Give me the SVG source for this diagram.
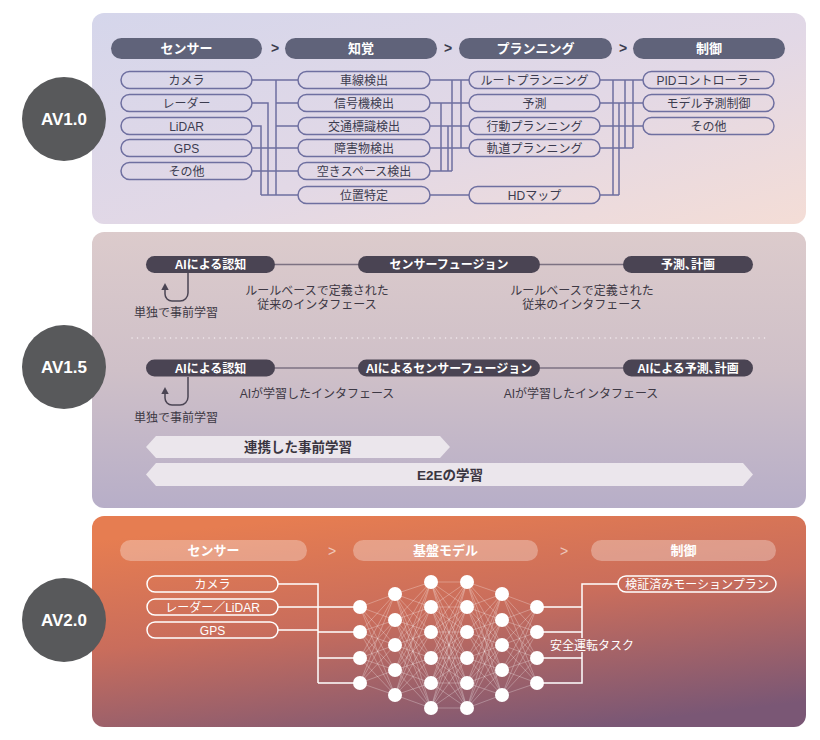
<svg xmlns="http://www.w3.org/2000/svg" width="820" height="740" viewBox="0 0 820 740">
<defs>
<linearGradient id="g1" x1="0" y1="0" x2="1" y2="1"><stop offset="0" stop-color="#d5d6eb"/><stop offset="0.55" stop-color="#e2d8e6"/><stop offset="1" stop-color="#f4ddd6"/></linearGradient>
<linearGradient id="g2" x1="0" y1="0" x2="0" y2="1"><stop offset="0" stop-color="#dccbcc"/><stop offset="0.5" stop-color="#cfc0c8"/><stop offset="1" stop-color="#b7aec8"/></linearGradient>
<linearGradient id="g3" x1="0.3" y1="0" x2="0.7" y2="1"><stop offset="0" stop-color="#e67d51"/><stop offset="0.45" stop-color="#c96d5c"/><stop offset="1" stop-color="#7a5775"/></linearGradient>
<style>
text{font-family:"Liberation Sans","Noto Sans CJK JP",sans-serif;text-anchor:middle}
.av{fill:#58595b}
.avt{fill:#fff;font-size:17px;font-weight:bold}
.hp{fill:#60637a}
.ht{fill:#fff;font-size:13px;font-weight:bold}
.chev{fill:#3a3b4c;font-size:14px;font-weight:bold}
.ip{fill:none;stroke:#6e6fa0;stroke-width:1.5}
.it{fill:#3c3c50;font-size:12px}
.c1{fill:none;stroke:#6e6fa0;stroke-width:1.5}
.dp{fill:#4a4453}
.dt{fill:#fff;font-size:12px;font-weight:bold}
.lk{stroke:#7d7282;stroke-width:1.5}
.lb{fill:#3d3844;font-size:12px}
.ar{fill:none;stroke:#4a4453;stroke-width:1.5}
.bar{fill:#ebe6ec}
.bt{fill:#3a3540;font-size:13.5px;font-weight:bold}
.wp{fill:#fff;fill-opacity:0.3}
.wt{fill:#fff;font-size:13px;font-weight:bold}
.wchev{fill:#fff;fill-opacity:0.6;font-size:14px}
.wi{fill:none;stroke:#fff;stroke-width:1.5}
.wit{fill:#fff;font-size:12px}
.wl{fill:none;stroke:#fff;stroke-width:1.5}
.nn{fill:none;stroke:#fff;stroke-opacity:0.35;stroke-width:0.8}
.nd{fill:#fff}
</style>
</defs>
<rect width="820" height="740" fill="#fff"/>

<!-- Panels -->
<rect x="92" y="13" width="714" height="211" rx="12" fill="url(#g1)"/>
<rect x="92" y="232" width="714" height="276" rx="12" fill="url(#g2)"/>
<rect x="92" y="516" width="714" height="211" rx="12" fill="url(#g3)"/>

<!-- AV circles -->
<g id="av10"><circle class="av" cx="64" cy="119" r="42"/><text class="avt" x="64" y="125">AV1.0</text></g>
<g id="av15"><circle class="av" cx="64" cy="367" r="42"/><text class="avt" x="64" y="373">AV1.5</text></g>
<g id="av20"><circle class="av" cx="64" cy="620" r="42"/><text class="avt" x="64" y="626">AV2.0</text></g>

<!-- Panel 1 connectors -->
<g id="p1-connectors">
<path class="c1" d="M252 80H298M276 80V195M252 103H268V195M252 126H261V195M252 148H298M252 171H298M276 103H298M276 126H298M261 195H298"/>
<path class="c1" d="M430 80H469M430 103H469M430 126H469M430 148H469M430 171H452M430 195H469M441 103V171M448 126V171M452 80V171M461 80V148"/>
<path class="c1" d="M600 80H643M600 103H643M600 126H643M600 148H633M600 195H619M613 80V195M619 103V195M625 80V148M633 80V148"/>
</g>

<!-- Panel 1 headers -->
<g id="p1-h-sensor"><rect class="hp" x="111" y="38" width="151" height="21" rx="10.5"/><text class="ht" x="186.5" y="53">センサー</text></g>
<text class="chev" x="275" y="53">&gt;</text>
<g id="p1-h-perc"><rect class="hp" x="285" y="38" width="152" height="21" rx="10.5"/><text class="ht" x="361" y="53">知覚</text></g>
<text class="chev" x="448" y="53">&gt;</text>
<g id="p1-h-plan"><rect class="hp" x="459" y="38" width="153" height="21" rx="10.5"/><text class="ht" x="535.5" y="53">プランニング</text></g>
<text class="chev" x="623" y="53">&gt;</text>
<g id="p1-h-ctrl"><rect class="hp" x="633" y="38" width="152" height="21" rx="10.5"/><text class="ht" x="709" y="53">制御</text></g>

<!-- Panel 1 sensors -->
<g id="s-camera"><rect class="ip" x="121" y="71.5" width="131" height="17" rx="8.5"/><text class="it" x="186.5" y="84.5">カメラ</text></g>
<g id="s-radar"><rect class="ip" x="121" y="94.5" width="131" height="17" rx="8.5"/><text class="it" x="186.5" y="107.5">レーダー</text></g>
<g id="s-lidar"><rect class="ip" x="121" y="117.5" width="131" height="17" rx="8.5"/><text class="it" x="186.5" y="130.5">LiDAR</text></g>
<g id="s-gps"><rect class="ip" x="121" y="139.5" width="131" height="17" rx="8.5"/><text class="it" x="186.5" y="152.5">GPS</text></g>
<g id="s-other"><rect class="ip" x="121" y="162.5" width="131" height="17" rx="8.5"/><text class="it" x="186.5" y="175.5">その他</text></g>

<!-- Panel 1 perception -->
<g id="p-lane"><rect class="ip" x="298" y="71.5" width="132" height="17" rx="8.5"/><text class="it" x="364" y="84.5">車線検出</text></g>
<g id="p-signal"><rect class="ip" x="298" y="94.5" width="132" height="17" rx="8.5"/><text class="it" x="364" y="107.5">信号機検出</text></g>
<g id="p-sign"><rect class="ip" x="298" y="117.5" width="132" height="17" rx="8.5"/><text class="it" x="364" y="130.5">交通標識検出</text></g>
<g id="p-obst"><rect class="ip" x="298" y="139.5" width="132" height="17" rx="8.5"/><text class="it" x="364" y="152.5">障害物検出</text></g>
<g id="p-space"><rect class="ip" x="298" y="162.5" width="132" height="17" rx="8.5"/><text class="it" x="364" y="175.5">空きスペース検出</text></g>
<g id="p-loc"><rect class="ip" x="298" y="186.5" width="132" height="17" rx="8.5"/><text class="it" x="364" y="199.5">位置特定</text></g>

<!-- Panel 1 planning -->
<g id="pl-route"><rect class="ip" x="469" y="71.5" width="131" height="17" rx="8.5"/><text class="it" x="534.5" y="84.5">ルートプランニング</text></g>
<g id="pl-pred"><rect class="ip" x="469" y="94.5" width="131" height="17" rx="8.5"/><text class="it" x="534.5" y="107.5">予測</text></g>
<g id="pl-beh"><rect class="ip" x="469" y="117.5" width="131" height="17" rx="8.5"/><text class="it" x="534.5" y="130.5">行動プランニング</text></g>
<g id="pl-traj"><rect class="ip" x="469" y="139.5" width="131" height="17" rx="8.5"/><text class="it" x="534.5" y="152.5">軌道プランニング</text></g>
<g id="pl-hd"><rect class="ip" x="469" y="186.5" width="131" height="17" rx="8.5"/><text class="it" x="534.5" y="199.5">HDマップ</text></g>

<!-- Panel 1 control -->
<g id="c-pid"><rect class="ip" x="643" y="71.5" width="131" height="17" rx="8.5"/><text class="it" x="708.5" y="84.5">PIDコントローラー</text></g>
<g id="c-mpc"><rect class="ip" x="643" y="94.5" width="131" height="17" rx="8.5"/><text class="it" x="708.5" y="107.5">モデル予測制御</text></g>
<g id="c-other"><rect class="ip" x="643" y="117.5" width="131" height="17" rx="8.5"/><text class="it" x="708.5" y="130.5">その他</text></g>

<!-- Panel 2 connectors -->
<g id="p2-connectors">
<path class="lk" d="M275 264.5H358M540 264.5H623M275 368H358M540 368H623"/>
<path class="ar" d="M188 273V293a8 8 0 0 1 -8 8h-8a7 7 0 0 1 -7 -7V289"/>
<polygon points="165,283 161.3,290 168.7,290" fill="#4a4453"/>
<path class="ar" d="M188 377V397a8 8 0 0 1 -8 8h-8a7 7 0 0 1 -7 -7V393"/>
<polygon points="165,387 161.3,394 168.7,394" fill="#4a4453"/>
<line x1="132" y1="338" x2="768" y2="338" stroke="#f3ecee" stroke-width="1.4" stroke-linecap="round" stroke-dasharray="0.1 5.4"/>
</g>

<!-- Panel 2 nodes -->
<g id="r1-percep"><rect class="dp" x="146" y="256" width="129" height="17" rx="8.5"/><text class="dt" x="210.5" y="269">AIによる認知</text></g>
<g id="r1-fusion"><rect class="dp" x="358" y="256" width="182" height="17" rx="8.5"/><text class="dt" x="449" y="269">センサーフュージョン</text></g>
<g id="r1-plan"><rect class="dp" x="623" y="256" width="130" height="17" rx="8.5"/><text class="dt" x="688" y="269">予測､計画</text></g>
<text class="lb" x="317" y="294.5">ルールベースで定義された</text>
<text class="lb" x="317" y="308.5">従来のインタフェース</text>
<text class="lb" x="582" y="294.5">ルールベースで定義された</text>
<text class="lb" x="582" y="308.5">従来のインタフェース</text>
<text class="lb" x="176" y="316.5">単独で事前学習</text>

<g id="r2-percep"><rect class="dp" x="146" y="359.5" width="129" height="17" rx="8.5"/><text class="dt" x="210.5" y="372.5">AIによる認知</text></g>
<g id="r2-fusion"><rect class="dp" x="358" y="359.5" width="182" height="17" rx="8.5"/><text class="dt" x="449" y="372.5">AIによるセンサーフュージョン</text></g>
<g id="r2-plan"><rect class="dp" x="623" y="359.5" width="130" height="17" rx="8.5"/><text class="dt" x="688" y="372.5">AIによる予測､計画</text></g>
<text class="lb" x="317" y="397.5">AIが学習したインタフェース</text>
<text class="lb" x="581" y="397.5">AIが学習したインタフェース</text>
<text class="lb" x="176" y="421.5">単独で事前学習</text>

<g id="bar-joint"><polygon class="bar" points="146,447 156,436 440,436 450,447 440,458 156,458"/><text class="bt" x="298" y="452">連携した事前学習</text></g>
<g id="bar-e2e"><polygon class="bar" points="146,474.5 156,463 743,463 753,474.5 743,486 156,486"/><text class="bt" x="450" y="479.5">E2Eの学習</text></g>

<!-- Panel 3 headers -->
<g id="p3-h-sensor"><rect class="wp" x="120" y="540" width="187" height="21" rx="10.5"/><text class="wt" x="213.5" y="555">センサー</text></g>
<text class="wchev" x="332" y="556">&gt;</text>
<g id="p3-h-model"><rect class="wp" x="353" y="540" width="185" height="21" rx="10.5"/><text class="wt" x="445.5" y="555">基盤モデル</text></g>
<text class="wchev" x="564" y="556">&gt;</text>
<g id="p3-h-ctrl"><rect class="wp" x="591" y="540" width="185" height="21" rx="10.5"/><text class="wt" x="683.5" y="555">制御</text></g>

<!-- Panel 3 connectors -->
<g id="p3-connectors">
<path class="wl" d="M278 584H318V683M278 607H360M278 630H318M318 632H360M318 658H360M318 683H360"/>
<path class="wl" d="M537 607H582M537 632H582M537 658H582M537 683H582V652M582 638V584H618"/>
<path class="nn" d="M360 607L395 594M360 607L395 620M360 607L395 645M360 607L395 670M360 607L395 695M360 632L395 594M360 632L395 620M360 632L395 645M360 632L395 670M360 632L395 695M360 658L395 594M360 658L395 620M360 658L395 645M360 658L395 670M360 658L395 695M360 683L395 594M360 683L395 620M360 683L395 645M360 683L395 670M360 683L395 695"/>
<path class="nn" d="M395 594L431 582M395 594L431 607M395 594L431 632M395 594L431 658M395 594L431 683M395 594L431 708M395 620L431 582M395 620L431 607M395 620L431 632M395 620L431 658M395 620L431 683M395 620L431 708M395 645L431 582M395 645L431 607M395 645L431 632M395 645L431 658M395 645L431 683M395 645L431 708M395 670L431 582M395 670L431 607M395 670L431 632M395 670L431 658M395 670L431 683M395 670L431 708M395 695L431 582M395 695L431 607M395 695L431 632M395 695L431 658M395 695L431 683M395 695L431 708"/>
<path class="nn" d="M431 582L467 582M431 582L467 607M431 582L467 632M431 582L467 658M431 582L467 683M431 582L467 708M431 607L467 582M431 607L467 607M431 607L467 632M431 607L467 658M431 607L467 683M431 607L467 708M431 632L467 582M431 632L467 607M431 632L467 632M431 632L467 658M431 632L467 683M431 632L467 708M431 658L467 582M431 658L467 607M431 658L467 632M431 658L467 658M431 658L467 683M431 658L467 708M431 683L467 582M431 683L467 607M431 683L467 632M431 683L467 658M431 683L467 683M431 683L467 708M431 708L467 582M431 708L467 607M431 708L467 632M431 708L467 658M431 708L467 683M431 708L467 708"/>
<path class="nn" d="M467 582L502 594M467 582L502 620M467 582L502 645M467 582L502 670M467 582L502 695M467 607L502 594M467 607L502 620M467 607L502 645M467 607L502 670M467 607L502 695M467 632L502 594M467 632L502 620M467 632L502 645M467 632L502 670M467 632L502 695M467 658L502 594M467 658L502 620M467 658L502 645M467 658L502 670M467 658L502 695M467 683L502 594M467 683L502 620M467 683L502 645M467 683L502 670M467 683L502 695M467 708L502 594M467 708L502 620M467 708L502 645M467 708L502 670M467 708L502 695"/>
<path class="nn" d="M502 594L537 607M502 594L537 632M502 594L537 658M502 594L537 683M502 620L537 607M502 620L537 632M502 620L537 658M502 620L537 683M502 645L537 607M502 645L537 632M502 645L537 658M502 645L537 683M502 670L537 607M502 670L537 632M502 670L537 658M502 670L537 683M502 695L537 607M502 695L537 632M502 695L537 658M502 695L537 683"/>
</g>

<!-- Panel 3 sensor items -->
<g id="w-camera"><rect class="wi" x="147" y="576" width="131" height="16" rx="8"/><text class="wit" x="212.5" y="588.5">カメラ</text></g>
<g id="w-radar"><rect class="wi" x="147" y="599" width="131" height="16" rx="8"/><text class="wit" x="212.5" y="611.5">レーダー／LiDAR</text></g>
<g id="w-gps"><rect class="wi" x="147" y="622" width="131" height="16" rx="8"/><text class="wit" x="212.5" y="634.5">GPS</text></g>

<!-- Neural network nodes -->
<g id="nn-nodes" class="nd">
<circle cx="360" cy="607" r="7"/><circle cx="360" cy="632" r="7"/><circle cx="360" cy="658" r="7"/><circle cx="360" cy="683" r="7"/>
<circle cx="395" cy="594" r="7"/><circle cx="395" cy="620" r="7"/><circle cx="395" cy="645" r="7"/><circle cx="395" cy="670" r="7"/><circle cx="395" cy="695" r="7"/>
<circle cx="431" cy="582" r="7"/><circle cx="431" cy="607" r="7"/><circle cx="431" cy="632" r="7"/><circle cx="431" cy="658" r="7"/><circle cx="431" cy="683" r="7"/><circle cx="431" cy="708" r="7"/>
<circle cx="467" cy="582" r="7"/><circle cx="467" cy="607" r="7"/><circle cx="467" cy="632" r="7"/><circle cx="467" cy="658" r="7"/><circle cx="467" cy="683" r="7"/><circle cx="467" cy="708" r="7"/>
<circle cx="502" cy="594" r="7"/><circle cx="502" cy="620" r="7"/><circle cx="502" cy="645" r="7"/><circle cx="502" cy="670" r="7"/><circle cx="502" cy="695" r="7"/>
<circle cx="537" cy="607" r="7"/><circle cx="537" cy="632" r="7"/><circle cx="537" cy="658" r="7"/><circle cx="537" cy="683" r="7"/>
</g>

<text class="wit" x="550" y="649.5" style="text-anchor:start">安全運転タスク</text>
<g id="w-motion"><rect class="wi" x="618" y="576" width="158" height="16" rx="8"/><text class="wit" x="697" y="588.5">検証済みモーションプラン</text></g>
</svg>
